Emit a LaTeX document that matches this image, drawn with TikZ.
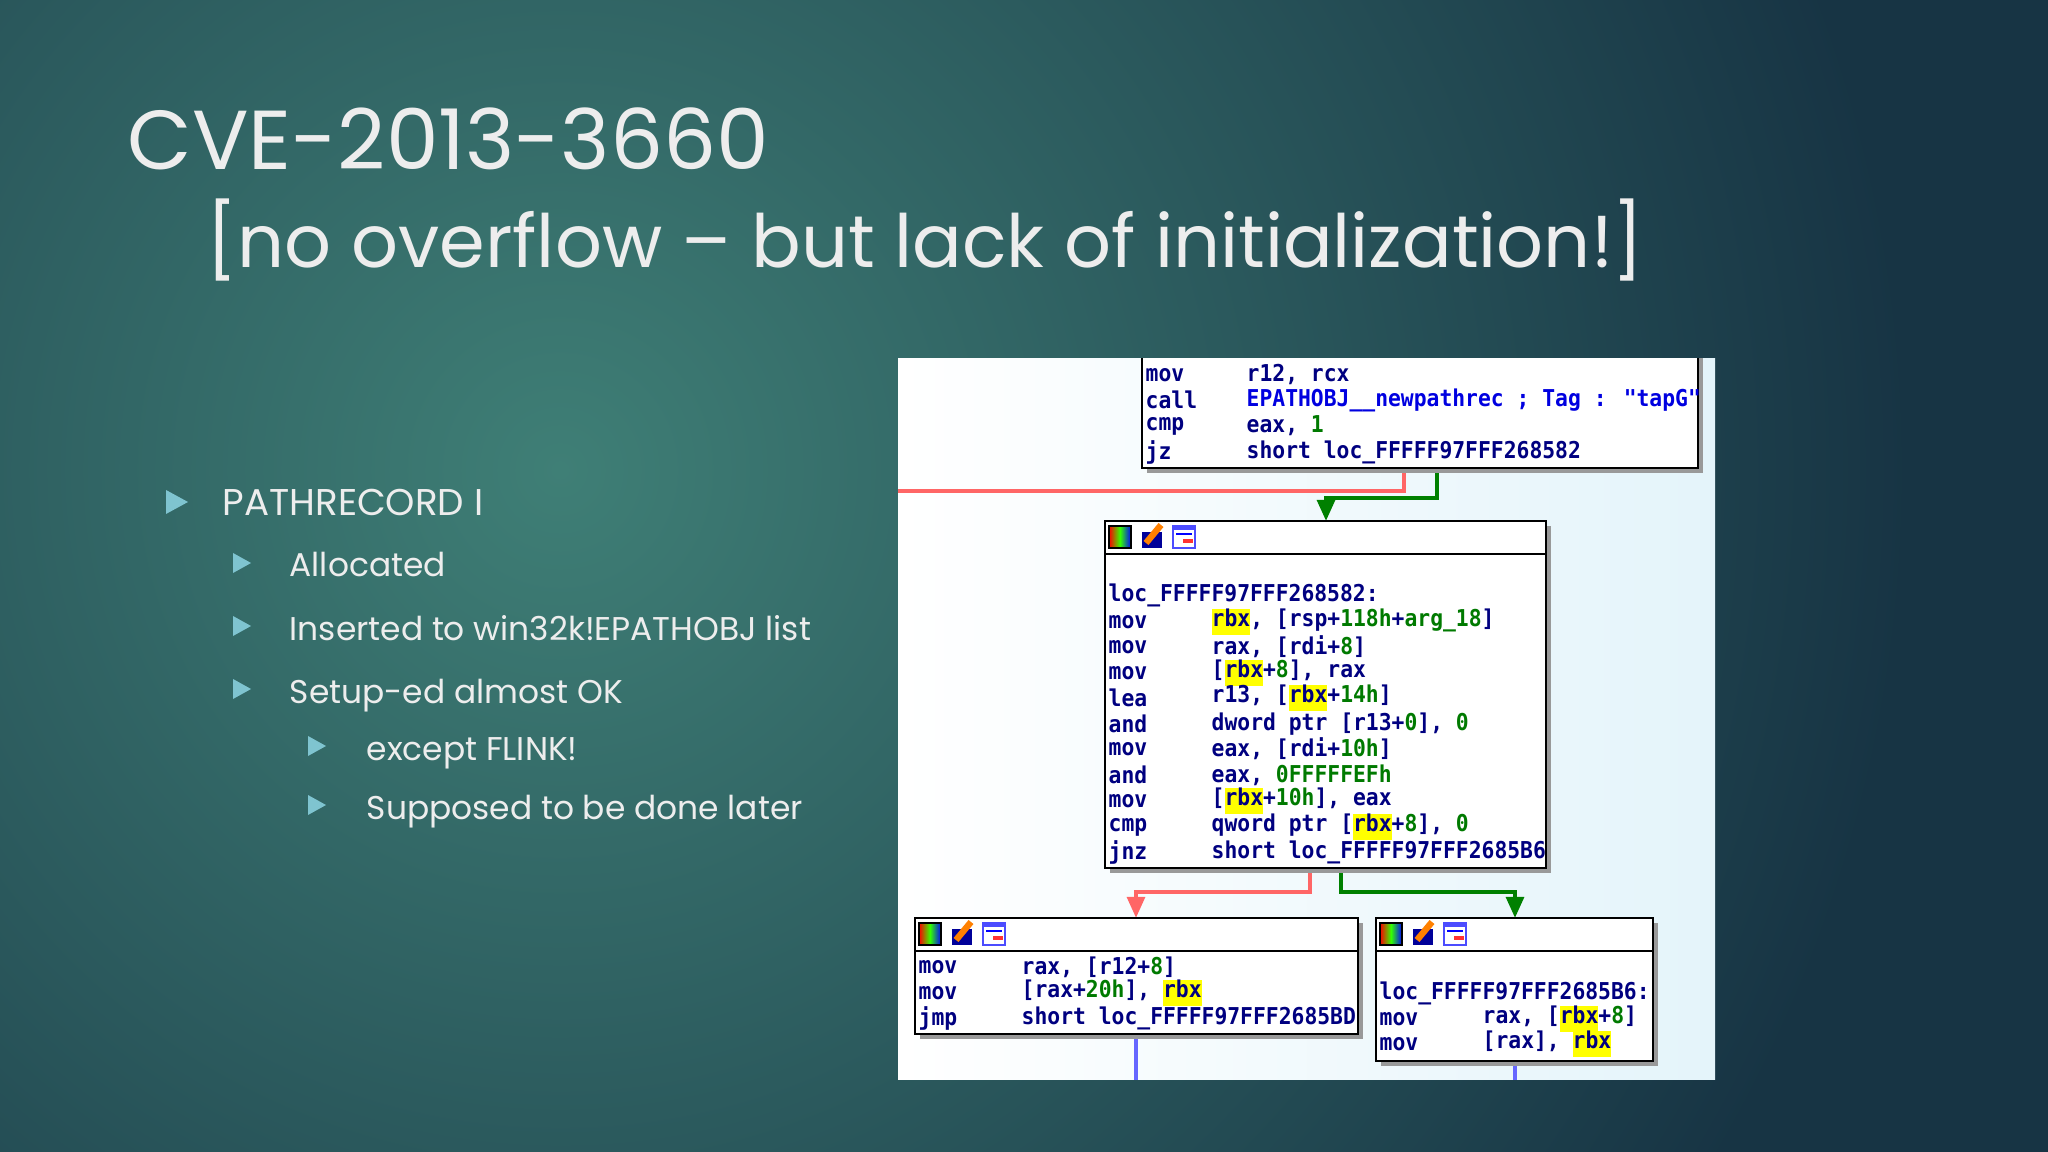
\documentclass[tikz,border=0pt]{standalone}
\usepackage{fontspec}
\setmainfont{Poppins}
\newfontfamily\codefont[FakeStretch=0.92]{DejaVu Sans Mono Bold}
\usetikzlibrary{arrows.meta}
\definecolor{mn}{HTML}{000080}
\definecolor{num}{HTML}{007A00}
\definecolor{blu}{HTML}{0000E0}
\definecolor{hly}{HTML}{FFFF00}
\definecolor{bgin}{HTML}{3F7F76}
\definecolor{bgout}{HTML}{173444}
\definecolor{bul}{HTML}{7FC4D0}
\definecolor{txt}{HTML}{EDEDED}
\definecolor{panel}{HTML}{E4F4FA}
\newcommand\hl[1]{\setbox0\hbox{#1}\rlap{\color{hly}\rule[-2.4pt]{\wd0}{7.4pt}}\box0}
\newcommand\nm[1]{\textcolor{num}{#1}}
\tikzset{
  codeline/.style={anchor=west,inner sep=0pt,font=\codefont\fontsize{6.6}{7}\selectfont,text=mn},
  btext/.style={anchor=base west,inner sep=0pt,text=txt},
  cbox/.style={draw=black,line width=0.6pt,fill=white},
  shadow/.style={fill=black!40,draw=none},
  redl/.style={draw=red!60,line width=1.2pt},
  grnl/.style={draw=green!50!black,line width=1.2pt},
  bluel/.style={draw=blue!60,line width=1.2pt},
  arr/.style={-{Triangle[length=6pt,width=5pt]}},
}
\newcommand\icons[2]{%
  \shade[left color=red,right color=blue,middle color=green!80!yellow] (#1+4,#2+5) rectangle (#1+26,#2+27);
  \draw[black,line width=0.4pt] (#1+4,#2+5) rectangle (#1+26,#2+27);
  \fill[blue!60!black] (#1+37,#2+11) rectangle (#1+57,#2+27);
  \draw[orange,line width=1.8pt] (#1+41,#2+22) -- (#1+56,#2+4);
  \fill[white] (#1+68,#2+5) rectangle (#1+90,#2+27);
  \draw[blue!70,line width=0.6pt] (#1+68,#2+5) rectangle (#1+90,#2+27);
  \fill[blue!70] (#1+68,#2+5) rectangle (#1+90,#2+9);
  \fill[red!80] (#1+78,#2+18) rectangle (#1+88,#2+22);
  \draw[blue,line width=0.5pt] (#1+71,#2+13) -- (#1+87,#2+13);
}
\newcommand\cbox[5]{%
  \fill[shadow] (#1+5,#2+5) rectangle (#3+5,#4+5);
  \draw[cbox] (#1,#2) rectangle (#3,#4);
  \ifx#5y\draw[line width=0.6pt] (#1,#2+33) -- (#3,#2+33);\icons{#1}{#2}\fi
}
\begin{document}
\begin{tikzpicture}[x=0.01cm,y=-0.01cm]
\useasboundingbox (0,0) rectangle (2048,1152);
\fill[bgout] (0,0) rectangle (2048,1152);
\begin{scope}
\clip (0,0) rectangle (2048,1152);
\shade[inner color=bgin,outer color=bgout] (560,470) circle (1350);
\end{scope}
% title
\node[btext,font=\fontsize{23.8}{28}\selectfont] (title) at (127,170) {CVE-2013-3660};
\node[btext,font=\fontsize{20.9}{26}\selectfont] (sub) at (206,268) {[no overflow – but lack of initialization!]};
% bullets
\fill[bul] (166,490) -- (188,502) -- (166,514) -- cycle;
\node[btext,font=\fontsize{10.6}{12}\selectfont] (b1) at (222,516) {PATHRECORD I};
\foreach \yy/\tt in {577/Allocated,640/Inserted to win32k!EPATHOBJ list,703/Setup-ed almost OK}{
  \fill[bul] (233,\yy-24) -- (251,\yy-14) -- (233,\yy-4) -- cycle;
  \node[btext,font=\fontsize{9.35}{12}\selectfont] at (289,\yy) {\tt};
}
\foreach \yy/\tt in {760/except FLINK!,819/Supposed to be done later}{
  \fill[bul] (308,\yy-24) -- (326,\yy-14) -- (308,\yy-4) -- cycle;
  \node[btext,font=\fontsize{9.35}{12}\selectfont] at (366,\yy) {\tt};
}
% panel
\begin{scope}
\clip (898,359) rectangle (1715,1079);
\shade[left color=white,right color=panel] (898,359) rectangle (1715,1079);
% connectors
\coordinate (rl) at (890,491);
\coordinate (b1) at (1136,1090);
\coordinate (b2) at (1515,1090);
\draw[redl] (1404,468) -- (1404,491) -- (rl);
\draw[grnl,arr] (1437,468) -- (1437,498) -- (1326,498) -- (1326,521);
\draw[redl,arr] (1310,868) -- (1310,892) -- (1136,892) -- (1136,918);
\draw[grnl,arr] (1341,868) -- (1341,892) -- (1515,892) -- (1515,918);
\draw[bluel] (1136,1034) -- (b1);
\draw[bluel] (1515,1061) -- (b2);
% top box
\cbox{1142}{340}{1698}{468}{n}
\foreach \yy/\a/\b in {375/mov/{r12, rcx},400/call/{\textcolor{blu}{EPATHOBJ\_\_newpathrec ; Tag : \symbol{34}tapG\symbol{34}}},426/cmp/{eax, \nm{1}},452/jz/{short loc\_FFFFF97FFF268582}}{
  \node[codeline] at (1145,\yy) {\a};
  \node[codeline] at (1246,\yy) {\b};
}
% middle box
\cbox{1105}{521}{1546}{868}{y}
\node[codeline] (lab1) at (1108,595) {loc\_FFFFF97FFF268582:};
\foreach \yy/\a/\b in {
  622/mov/{\hl{rbx}, [rsp+\nm{118h}+\nm{arg\_18}]},
  647/mov/{rax, [rdi+\nm{8}]},
  673/mov/{[\hl{rbx}+\nm{8}], rax},
  698/lea/{r13, [\hl{rbx}+\nm{14h}]},
  724/and/{dword ptr [r13+\nm{0}], \nm{0}},
  749/mov/{eax, [rdi+\nm{10h}]},
  775/and/{eax, \nm{0FFFFFEFh}},
  801/mov/{[\hl{rbx}+\nm{10h}], eax},
  827/cmp/{qword ptr [\hl{rbx}+\nm{8}], \nm{0}},
  852/jnz/{short loc\_FFFFF97FFF2685B6}}{
  \node[codeline] at (1108,\yy) {\a};
  \node[codeline] at (1211,\yy) {\b};
}
% bottom left
\cbox{915}{918}{1358}{1034}{y}
\foreach \yy/\a/\b in {967/mov/{rax, [r12+\nm{8}]},993/mov/{[rax+\nm{20h}], \hl{rbx}},1018/jmp/{short loc\_FFFFF97FFF2685BD}}{
  \node[codeline] at (918,\yy) {\a};
  \node[codeline] at (1021,\yy) {\b};
}
% bottom right
\cbox{1376}{918}{1653}{1061}{y}
\node[codeline] (lab2) at (1379,993) {loc\_FFFFF97FFF2685B6:};
\foreach \yy/\a/\b in {1019/mov/{rax, [\hl{rbx}+\nm{8}]},1044/mov/{[rax], \hl{rbx}}}{
  \node[codeline] at (1379,\yy) {\a};
  \node[codeline] at (1482,\yy) {\b};
}
\end{scope}
\end{tikzpicture}
\end{document}
